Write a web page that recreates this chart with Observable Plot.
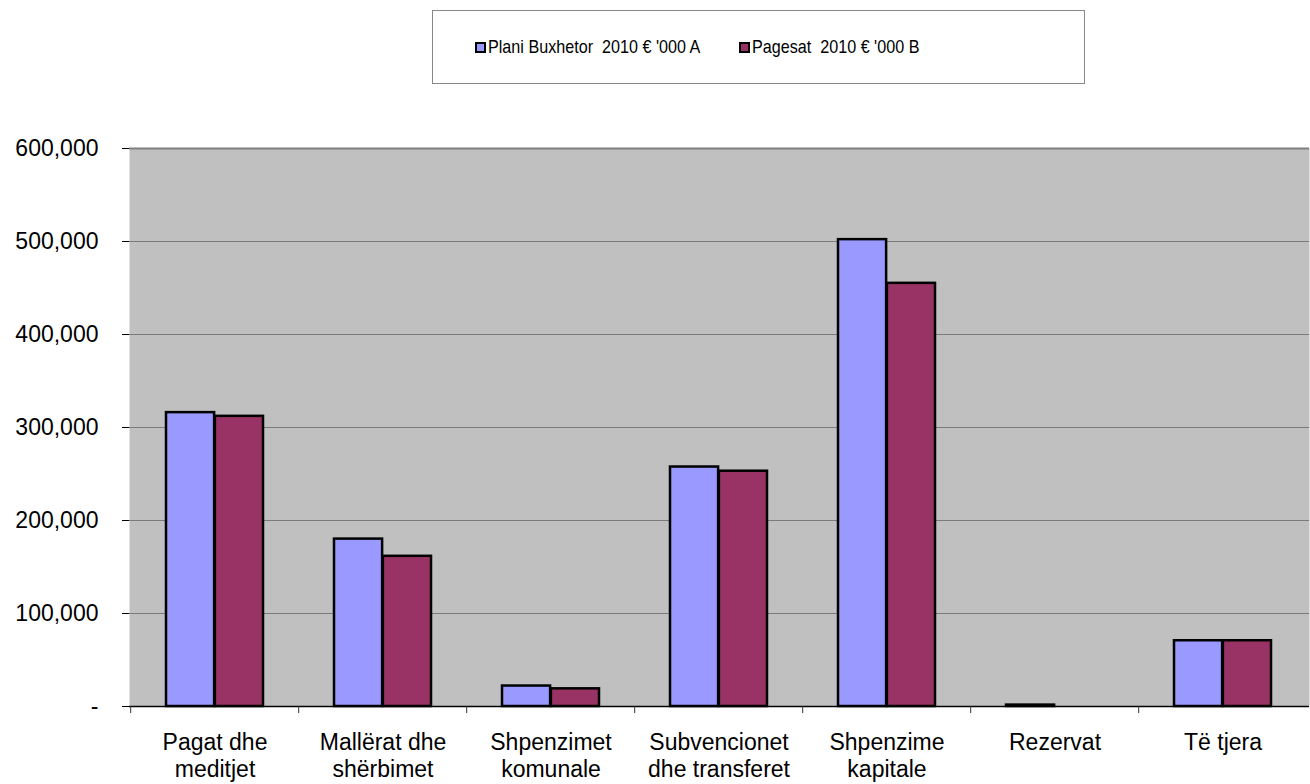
<!DOCTYPE html>
<html>
<head>
<meta charset="utf-8">
<script src="https://cdn.jsdelivr.net/npm/d3@7"></script>
<script src="https://cdn.jsdelivr.net/npm/@observablehq/plot@0.6"></script>
<style>
  html, body { margin: 0; padding: 0; background: #fff; }
  body { width: 1310px; height: 784px; position: relative; overflow: hidden; font-family: "Liberation Sans", Arial, sans-serif; }
  #legend { position: absolute; left: 432px; top: 10px; width: 651px; height: 72px; border: 1.5px solid #888; box-sizing: content-box; font-size: 19px; color: #000; }
  #legend .item { position: absolute; top: 0; height: 72px; display: flex; align-items: center; white-space: pre; }
  #legend .sw { width: 7px; height: 7px; border: 2px solid #000; margin-right: 2px; flex: none; }
  #legend .txt { display: inline-block; transform: scale(0.85, 1); transform-origin: left center; }
  #chart { position: absolute; left: 0; top: 100px; }
</style>
</head>
<body>
<div id="legend"></div>
<div id="chart"></div>
<script>
const categories = ["Pagat dhe\nmeditjet", "Mallërat dhe\nshërbimet", "Shpenzimet\nkomunale", "Subvencionet\ndhe transferet", "Shpenzime\nkapitale", "Rezervat", "Të tjera"];
const seriesNames = ["Plani Buxhetor  2010 € '000 A", "Pagesat  2010 € '000 B"];
const planiValues = [316000, 180000, 22000, 257500, 502000, 1500, 70700];
const pagesatValues = [312000, 161500, 19000, 253000, 455000, 0, 70700];
const yTicks = [0, 100000, 200000, 300000, 400000, 500000, 600000];
const colors = ["#9999FF", "#993366"];

const rows = categories.map((c, i) => ({cat: c, a: planiValues[i], b: pagesatValues[i]}));

// legend
const legend = document.getElementById("legend");
const legendLeft = [42, 306];
seriesNames.forEach((name, i) => {
  const item = document.createElement("div");
  item.className = "item";
  item.style.left = legendLeft[i] + "px";
  const sw = document.createElement("span");
  sw.className = "sw";
  sw.style.background = colors[i];
  item.appendChild(sw);
  const t = document.createElement("span");
  t.className = "txt";
  t.textContent = name;
  item.appendChild(t);
  legend.appendChild(item);
});

const W = 1310, H = 684, mL = 129, mR = 1;
const step = (W - mL - mR) / categories.length;
const padInner = 0.42;
const bw = step * (1 - padInner);
const half = bw / 2;

const plot = Plot.plot({
  width: W,
  height: H,
  marginLeft: mL,
  marginRight: mR,
  marginTop: 48,
  marginBottom: 78,
  style: {fontFamily: "'Liberation Sans', Arial, sans-serif", fontSize: "23px", color: "#000", background: "transparent", overflow: "visible"},
  x: {domain: categories, paddingInner: padInner, paddingOuter: padInner / 2, label: null},
  y: {domain: [0, 600000], label: null},
  marks: [
    Plot.frame({fill: "#C0C0C0", stroke: null}),
    Plot.ruleY(yTicks.slice(1, -1), {stroke: "#7a7a7a", strokeWidth: 1}),
    Plot.ruleY([600000], {stroke: "#808080", strokeWidth: 2}),
    Plot.barY(rows, {x: "cat", y: "a", fill: colors[0], stroke: "#000", strokeWidth: 2.5, insetRight: half}),
    Plot.barY(rows, {x: "cat", y: "b", fill: colors[1], stroke: "#000", strokeWidth: 2.5, insetLeft: half}),
    Plot.ruleY([0], {stroke: "#000", strokeWidth: 1.5}),
    Plot.ruleX(rows, {x: "cat", dx: -step / 2, y1: 0, y2: 0, insetBottom: -7, stroke: "#333", strokeWidth: 1}),
    Plot.axisX({tickSize: 0, tickPadding: 24, fontSize: 23, lineHeight: 1.17, label: null}),
    Plot.axisY({ticks: yTicks, tickSize: 7, tickPadding: 24, fontSize: 23, label: null,
      tickFormat: d => d === 0 ? "-" : d3.format(",")(d)}),
    Plot.ruleX([0], {stroke: "#000", strokeWidth: 1.5})
  ]
});
document.getElementById("chart").appendChild(plot);
</script>
</body>
</html>
